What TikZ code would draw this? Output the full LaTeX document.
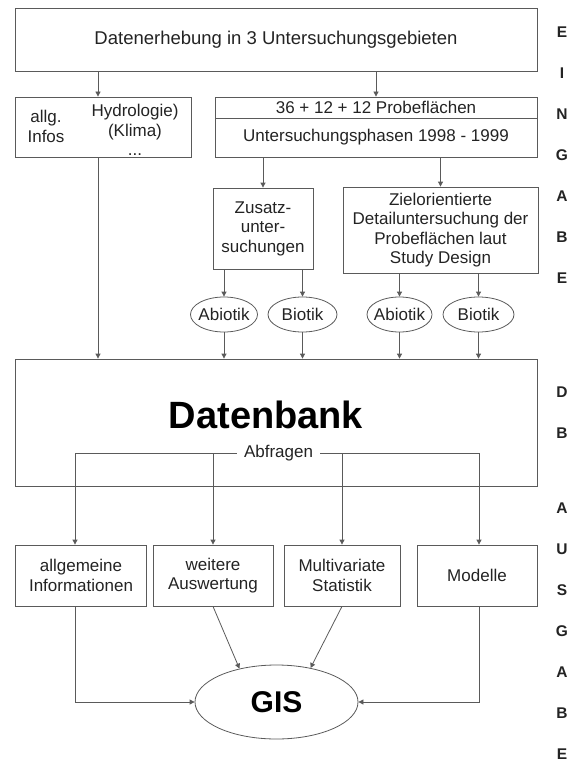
\documentclass[tikz,border=0pt]{standalone}
\usepackage{fontspec}
\setmainfont{Liberation Sans}
\usepackage{xcolor}
\usepackage{tikz}
\usetikzlibrary{
  arrows.meta,
  shapes.geometric
}
\definecolor{linegray}{RGB}{90,90,90}
\definecolor{textgray}{RGB}{35,35,35}

\begin{document}
\begin{tikzpicture}[
        x=1pt,y=-1pt,
        box/.style 2 args={
            draw=linegray,
            line width=0.8pt,
            inner sep=0pt,
            minimum width=#1,
            minimum height=#2,
            align=center,
            font=\fontsize{17}{19.5}\selectfont,
            text=textgray
          },
        oval/.style={
            draw=linegray,
            line width=0.8pt,
            ellipse,
            inner sep=0pt,
            minimum width=#1,
            minimum height=35pt
          },
        txt/.style={
            inner sep=0pt,
            align=center,
            font=\fontsize{17}{19.5}\selectfont,
            text=textgray
          },
        arr/.style={
            draw=linegray,
            line width=0.8pt,
            -{Triangle[length=5pt,width=5pt]}
          },
        side/.style={
            inner sep=0pt,
            font=\fontsize{15.5}{16}\bfseries\selectfont,
            text=textgray
          }
      ]
      \useasboundingbox (0,0) rectangle (576,762);

      % Erhebung
      \node[box={522pt}{63pt},font=\fontsize{18.5}{20}\selectfont] (top) at (276,39.5) {Datenerhebung in 3 Untersuchungsgebieten};
      \node[box={176pt}{60pt}] (info) at (103,127) {};
      \node[txt] (infoL) at (46,126.5) {allg.\\Infos};
      \node[txt] (infoR) at (135,122) {Hydrologie)\\(Klima)};
      \node[txt,anchor=base] (infodots) at (135,156) {...};
      \node[box={322pt}{21pt}] (probeA) at (376,107.5) {36 + 12 + 12 Probeflächen};
      \node[box={322pt}{39pt}] (probeB) at (376,137.5) {Untersuchungsphasen 1998 - 1999};
      \node[box={100pt}{81pt}] (zusatz) at (263,228.5) {Zusatz-\\unter-\\suchungen};
      \node[box={195pt}{86pt}] (ziel) at (440.5,230) {Zielorientierte\\Detailuntersuchung der\\Probeflächen laut\\Study Design};

      % Abiotik / Biotik
      \node[oval=67pt,label={[txt]center:Abiotik}] (abio1) at (224,314.5) {};
      \node[oval=69pt,label={[txt]center:Biotik}] (bio1) at (302.5,314.5) {};
      \node[oval=65pt,label={[txt]center:Abiotik}] (abio2) at (399.5,314.5) {};
      \node[oval=71pt,label={[txt]center:Biotik}] (bio2) at (478.5,314.5) {};

      % Datenbank
      \node[box={522pt}{127pt}] (db) at (276,422.5) {};
      \node[txt,font=\fontsize{38}{40}\bfseries\selectfont,text=black] (dbtitle) at (266,415) {Datenbank};
      \node[txt,inner xsep=7pt] (abfr) at (278.5,453.5) {Abfragen};

      % Auswertung
      \node[box={131pt}{61pt}] (out1) at (81,575.5) {allgemeine\\Informationen};
      \node[box={120pt}{61pt}] (out2) at (213,575.5) {weitere\\Auswertung};
      \node[box={116pt}{61pt}] (out3) at (342,575.5) {Multivariate\\Statistik};
      \node[box={120pt}{61pt}] (out4) at (477,575.5) {Modelle};
      \node[oval=163pt,minimum height=74pt,text=black,
        font=\fontsize{30}{32}\bfseries\selectfont] (gis) at (276.5,702) {GIS};

      % Hilfspunkte
      \coordinate (infoin) at ([xshift=-5pt]info.north);
      \coordinate (infoout) at ([xshift=-5pt]info.south);
      \coordinate (q1in) at ([xshift=-6pt]out1.north);
      \coordinate (q1out) at ([xshift=-6pt]out1.south);
      \coordinate (q4in) at ([xshift=2pt]out4.north);
      \coordinate (q4out) at ([xshift=2pt]out4.south);

      % Pfeile oben
      \draw[arr] (infoin |- top.south) -- (infoin);
      \draw[arr] (probeA.north |- top.south) -- (probeA.north);
      \draw[arr] (zusatz.north |- probeB.south) -- (zusatz.north);
      \draw[arr] (ziel.north |- probeB.south) -- (ziel.north);
      \draw[arr] (abio1.north |- zusatz.south) -- (abio1.north);
      \draw[arr] (bio1.north |- zusatz.south) -- (bio1.north);
      \draw[arr] (abio2.north |- ziel.south) -- (abio2.north);
      \draw[arr] (bio2.north |- ziel.south) -- (bio2.north);

      % Pfeile zur Datenbank
      \draw[arr] (infoout) -- (infoout |- db.north);
      \foreach \src in {abio1,bio1,abio2,bio2}{
          \draw[arr] (\src.south) -- (\src.south |- db.north);
        }

      % Abfragen
      \draw[arr] (abfr.west) -| (q1in);
      \draw[arr] (abfr.west -| out2.north) -- (out2.north);
      \draw[arr] (abfr.east) -| (q4in);
      \draw[arr] (abfr.east -| out3.north) -- (out3.north);

      % zum GIS
      \draw[arr] (q1out) |- (gis.west);
      \draw[arr] (q4out) |- (gis.east);
      \draw[arr] (out2.south) -- (gis.138);
      \draw[arr] (out3.south) -- (gis.45);

      % Randbuchstaben
      \foreach \ch/\yy in {E/32,I/73,N/114,G/155,A/196,B/237,E/278,
          D/392,B/433,A/508,U/549,S/590,G/631,A/672,B/713,E/754}{
          \node[side] (side\yy) at (562,\yy) {\ch};
        }
\end{tikzpicture}
\end{document}
